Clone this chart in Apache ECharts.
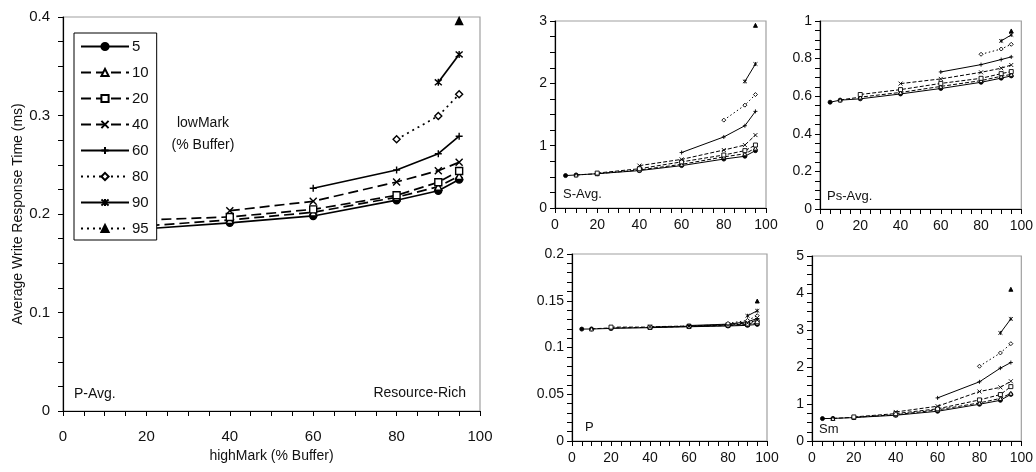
<!DOCTYPE html>
<html>
<head>
<meta charset="utf-8">
<script src="https://cdn.jsdelivr.net/npm/echarts@6/dist/echarts.min.js"></script>
<style>
html,body{margin:0;padding:0;background:#fff;}
#c{width:1036px;height:472px;}
</style>
</head>
<body>
<div id="c"></div>
<script>
// x values (highMark, % Buffer) and series names (lowMark, % Buffer)
const HIGH_MARK = [5, 10, 20, 40, 60, 80, 90, 95];
const LOW_MARK = ['5', '10', '20', '40', '60', '80', '90', '95'];

// P-Avg. (main chart) – rows follow LOW_MARK order, columns follow HIGH_MARK
const P_AVG = [
  [0.182, 0.183, 0.185, 0.191, 0.198, 0.214, 0.2236, 0.235],
  [null, 0.184, 0.188, 0.194, 0.2017, 0.217, 0.2277, 0.2386],
  [null, null, 0.194, 0.197, 0.2047, 0.219, 0.2322, 0.2437],
  [null, null, null, 0.2034, 0.2129, 0.2325, 0.244, 0.2525],
  [null, null, null, null, 0.2261, 0.2447, 0.2612, 0.279],
  [null, null, null, null, null, 0.2758, 0.2995, 0.3215],
  [null, null, null, null, null, null, 0.3337, 0.362],
  [null, null, null, null, null, null, null, 0.396]
];
// S-Avg.
const S_AVG = [
  [0.52, 0.53, 0.55, 0.60, 0.68, 0.785, 0.83, 0.92],
  [null, 0.53, 0.55, 0.61, 0.70, 0.82, 0.87, 0.96],
  [null, null, 0.56, 0.63, 0.74, 0.85, 0.92, 1.01],
  [null, null, null, 0.68, 0.78, 0.93, 1.01, 1.17],
  [null, null, null, null, 0.89, 1.14, 1.32, 1.55],
  [null, null, null, null, null, 1.41, 1.65, 1.82],
  [null, null, null, null, null, null, 2.03, 2.31],
  [null, null, null, null, null, null, null, 2.93]
];
// Ps-Avg.
const PS_AVG = [
  [0.568, 0.579, 0.586, 0.612, 0.641, 0.674, 0.696, 0.708],
  [null, 0.580, 0.595, 0.620, 0.652, 0.683, 0.706, 0.716],
  [null, null, 0.609, 0.635, 0.668, 0.695, 0.720, 0.731],
  [null, null, null, 0.667, 0.692, 0.727, 0.749, 0.766],
  [null, null, null, null, 0.729, 0.768, 0.795, 0.809],
  [null, null, null, null, null, 0.823, 0.851, 0.876],
  [null, null, null, null, null, null, 0.894, 0.926],
  [null, null, null, null, null, null, null, 0.947]
];
// P
const P_VAL = [
  [0.1197, 0.1198, 0.1204, 0.1212, 0.1222, 0.1230, 0.1237, 0.1247],
  [null, 0.1199, 0.1210, 0.1215, 0.1225, 0.1235, 0.1245, 0.1261],
  [null, null, 0.1218, 0.1218, 0.1228, 0.1240, 0.1252, 0.1275],
  [null, null, null, 0.1222, 0.1230, 0.1245, 0.1262, 0.1293],
  [null, null, null, null, 0.1235, 0.1250, 0.1275, 0.1310],
  [null, null, null, null, null, 0.1258, 0.1290, 0.1340],
  [null, null, null, null, null, null, 0.1339, 0.1393],
  [null, null, null, null, null, null, null, 0.1497]
];
// Sm
const SM = [
  [0.606, 0.61, 0.633, 0.696, 0.804, 0.993, 1.10, 1.26],
  [null, 0.61, 0.64, 0.71, 0.84, 1.03, 1.15, 1.29],
  [null, null, 0.65, 0.74, 0.87, 1.11, 1.255, 1.47],
  [null, null, null, 0.785, 0.94, 1.337, 1.45, 1.615],
  [null, null, null, null, 1.165, 1.60, 1.97, 2.12],
  [null, null, null, null, null, 2.02, 2.38, 2.63],
  [null, null, null, null, null, null, 2.92, 3.30],
  [null, null, null, null, null, null, null, 4.10]
];

const P_X = 'path://M0,0L10,10M10,0L0,10';
const P_PLUS = 'path://M5,0L5,10M0,5L10,5';
const P_AST = 'path://M0,0L10,10M10,0L0,10M5,-1L5,11';
const STYLES = [
  { type: 'solid', symbol: 'circle', fill: '#000' },
  { type: 'dashed', symbol: 'triangle', fill: '#fff' },
  { type: 'dashed', symbol: 'rect', fill: '#fff' },
  { type: 'dashed', symbol: P_X, fill: '#000' },
  { type: 'solid', symbol: P_PLUS, fill: '#000' },
  { type: 'dotted', symbol: 'diamond', fill: '#fff' },
  { type: 'solid', symbol: P_AST, fill: '#000' },
  { type: 'dotted', symbol: 'triangle', fill: '#000' }
];

const FONT = 'Liberation Sans, Arial, sans-serif';
const TXT = '#111';

function makeSeries(rows, gridIdx, big) {
  return rows.map((row, i) => {
    const st = STYLES[i];
    let dash;
    if (st.type === 'solid') dash = 'solid';
    else if (st.type === 'dashed') dash = big ? [10, 5] : [4, 2];
    else dash = big ? [2, 4] : [1.5, 2.5];
    return {
      name: LOW_MARK[i],
      type: 'line',
      xAxisIndex: gridIdx,
      yAxisIndex: gridIdx,
      data: HIGH_MARK.map((x, j) => [x, row[j]]).filter(d => d[1] !== null),
      symbol: st.symbol,
      symbolSize: big ? 7 : 4,
      showAllSymbol: true,
      animation: false,
      color: '#000',
      lineStyle: { color: '#000', width: big ? 1.7 : 1, type: dash },
      itemStyle: { color: st.fill, borderColor: '#000', borderWidth: big ? 1.4 : 0.9 },
      emphasis: { disabled: true },
      z: 2
    };
  });
}

const grids = [
  { left: 63, top: 17, width: 417, height: 394 },
  { left: 555, top: 21, width: 211, height: 187 },
  { left: 820, top: 21, width: 202, height: 188 },
  { left: 572, top: 254, width: 195, height: 187 },
  { left: 812, top: 256, width: 210, height: 185 }
];

function xAxis(gi, big) {
  return {
    type: 'value', gridIndex: gi, min: 0, max: 100, interval: 20,
    axisLine: { show: true, onZero: false, lineStyle: { color: '#000', width: 1.2 } },
    axisTick: { show: true, length: 5, lineStyle: { color: '#000' } },
    minorTick: { show: true, splitNumber: 4, length: 5, lineStyle: { color: '#000' } },
    splitLine: { show: false },
    axisLabel: { color: TXT, fontFamily: FONT, fontSize: big ? 15 : 14, margin: big ? 18 : 10 },
    name: big ? 'highMark (% Buffer)' : '',
    nameLocation: 'middle', nameGap: 37,
    nameTextStyle: { color: TXT, fontFamily: FONT, fontSize: 14 }
  };
}
function yAxis(gi, max, interval, minorSplit, big) {
  return {
    type: 'value', gridIndex: gi, min: 0, max: max, interval: interval,
    axisLine: { show: true, onZero: false, lineStyle: { color: '#000', width: 1.2 } },
    axisTick: { show: true, length: 5, lineStyle: { color: '#000' } },
    minorTick: { show: true, splitNumber: minorSplit, length: 5, lineStyle: { color: '#000' } },
    splitLine: { show: false },
    axisLabel: { color: TXT, fontFamily: FONT, fontSize: big ? 15 : 14, margin: big ? 13 : 8 },
    name: big ? 'Average Write Response Time (ms)' : '',
    nameLocation: 'middle', nameGap: 36,
    nameTextStyle: { color: TXT, fontFamily: FONT, fontSize: 14 }
  };
}

const option = {
  backgroundColor: '#fff',
  animation: false,
  grid: grids.map(g => Object.assign({ show: true, borderColor: '#a0a0a0', borderWidth: 1.2, backgroundColor: 'transparent' }, g)),
  xAxis: [xAxis(0, true), xAxis(1), xAxis(2), xAxis(3), xAxis(4)],
  yAxis: [
    yAxis(0, 0.4, 0.1, 4, true),
    yAxis(1, 3, 1, 4),
    yAxis(2, 1, 0.2, 4),
    yAxis(3, 0.2, 0.05, 5),
    yAxis(4, 5, 1, 4)
  ],
  legend: {
    orient: 'vertical', left: 74, top: 33,
    data: LOW_MARK,
    selectedMode: false,
    itemWidth: 48, itemHeight: 9, itemGap: 11,
    padding: [6, 8, 4, 6],
    borderColor: '#000', borderWidth: 1, backgroundColor: '#fff',
    textStyle: { color: TXT, fontFamily: FONT, fontSize: 15, padding: [0, 0, 0, -2] },
    z: 5
  },
  series: [].concat(
    makeSeries(P_AVG, 0, true),
    makeSeries(S_AVG, 1, false),
    makeSeries(PS_AVG, 2, false),
    makeSeries(P_VAL, 3, false),
    makeSeries(SM, 4, false)
  )
};

option.graphic = [
  { type: 'text', x: 203, y: 123, z: 10, style: { text: 'lowMark', fill: TXT, font: '14px ' + FONT, align: 'center', verticalAlign: 'middle' } },
  { type: 'text', x: 203, y: 145, z: 10, style: { text: '(% Buffer)', fill: TXT, font: '14px ' + FONT, align: 'center', verticalAlign: 'middle' } },
  { type: 'text', x: 74, y: 394, z: 10, style: { text: 'P-Avg.', fill: TXT, font: '14px ' + FONT, align: 'left', verticalAlign: 'middle' } },
  { type: 'text', x: 466, y: 393, z: 10, style: { text: 'Resource-Rich', fill: TXT, font: '14px ' + FONT, align: 'right', verticalAlign: 'middle' } },
  { type: 'text', x: 563, y: 194, z: 10, style: { text: 'S-Avg.', fill: TXT, font: '13px ' + FONT, align: 'left', verticalAlign: 'middle' } },
  { type: 'text', x: 827, y: 196, z: 10, style: { text: 'Ps-Avg.', fill: TXT, font: '13px ' + FONT, align: 'left', verticalAlign: 'middle' } },
  { type: 'text', x: 585, y: 427, z: 10, style: { text: 'P', fill: TXT, font: '13px ' + FONT, align: 'left', verticalAlign: 'middle' } },
  { type: 'text', x: 819, y: 429, z: 10, style: { text: 'Sm', fill: TXT, font: '13px ' + FONT, align: 'left', verticalAlign: 'middle' } }
];

const chart = echarts.init(document.getElementById('c'), null, { renderer: 'canvas' });
chart.setOption(option);
</script>
</body>
</html>
